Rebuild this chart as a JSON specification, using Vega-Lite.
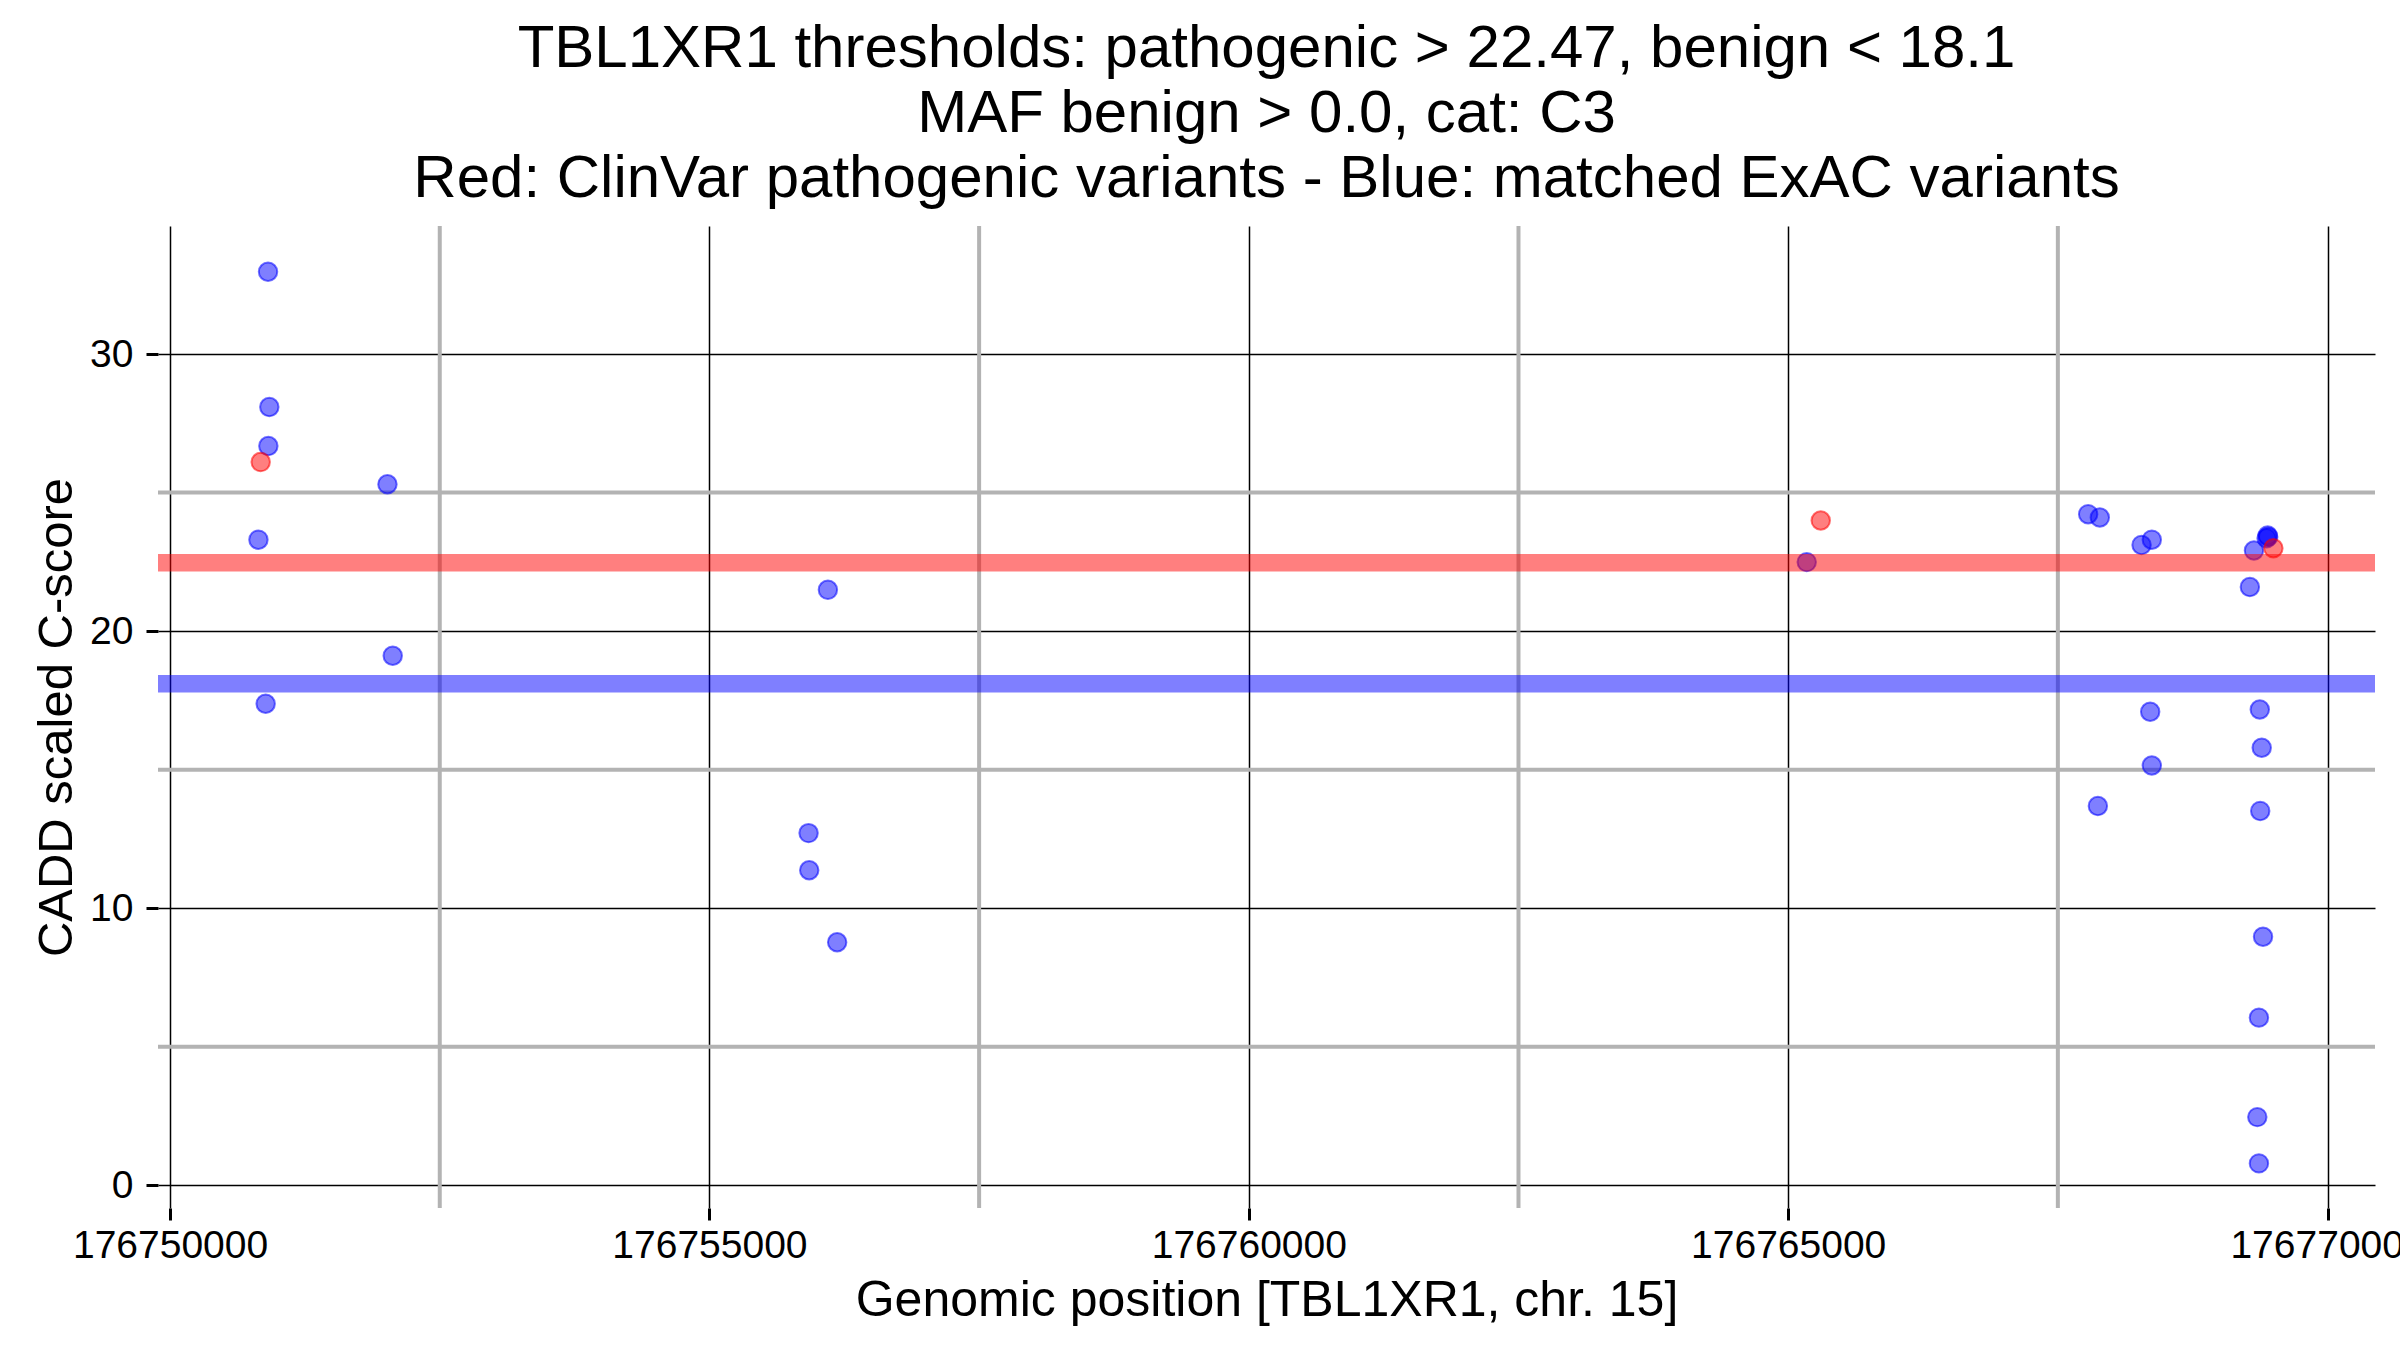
{
  "$schema": "https://vega.github.io/schema/vega-lite/v6.json",
  "width": 2217,
  "height": 982,
  "autosize": "none",
  "padding": {"left": 158, "top": 226, "right": 25, "bottom": 142},
  "background": "white",
  "config": {"view": {"stroke": null}, "font": "Liberation Sans"},
  "title": {
    "text": ["TBL1XR1 thresholds: pathogenic > 22.47, benign < 18.1", "MAF benign > 0.0, cat: C3", "Red: ClinVar pathogenic variants - Blue: matched ExAC variants"],
    "fontSize": 60,
    "lineHeight": 65,
    "font": "Liberation Sans",
    "fontWeight": "normal",
    "color": "black",
    "anchor": "middle",
    "frame": "group",
    "offset": 14
  },
  "datasets": {
    "variants": [
      {"pos": 176750908, "score": 32.97, "set": "ExAC"},
      {"pos": 176750920, "score": 28.09, "set": "ExAC"},
      {"pos": 176750911, "score": 26.68, "set": "ExAC"},
      {"pos": 176752015, "score": 25.30, "set": "ExAC"},
      {"pos": 176750819, "score": 23.30, "set": "ExAC"},
      {"pos": 176752064, "score": 19.11, "set": "ExAC"},
      {"pos": 176750886, "score": 17.38, "set": "ExAC"},
      {"pos": 176756098, "score": 21.49, "set": "ExAC"},
      {"pos": 176755919, "score": 12.71, "set": "ExAC"},
      {"pos": 176755925, "score": 11.37, "set": "ExAC"},
      {"pos": 176756184, "score": 8.77, "set": "ExAC"},
      {"pos": 176765172, "score": 22.49, "set": "ExAC"},
      {"pos": 176767781, "score": 24.22, "set": "ExAC"},
      {"pos": 176767889, "score": 24.10, "set": "ExAC"},
      {"pos": 176768276, "score": 23.11, "set": "ExAC"},
      {"pos": 176768371, "score": 23.30, "set": "ExAC"},
      {"pos": 176769318, "score": 22.91, "set": "ExAC"},
      {"pos": 176769435, "score": 23.35, "set": "ExAC"},
      {"pos": 176769445, "score": 23.45, "set": "ExAC"},
      {"pos": 176769450, "score": 23.40, "set": "ExAC"},
      {"pos": 176769280, "score": 21.59, "set": "ExAC"},
      {"pos": 176768356, "score": 17.09, "set": "ExAC"},
      {"pos": 176768371, "score": 15.15, "set": "ExAC"},
      {"pos": 176767871, "score": 13.69, "set": "ExAC"},
      {"pos": 176769372, "score": 17.17, "set": "ExAC"},
      {"pos": 176769390, "score": 15.79, "set": "ExAC"},
      {"pos": 176769376, "score": 13.51, "set": "ExAC"},
      {"pos": 176769402, "score": 8.97, "set": "ExAC"},
      {"pos": 176769364, "score": 6.05, "set": "ExAC"},
      {"pos": 176769349, "score": 2.46, "set": "ExAC"},
      {"pos": 176769364, "score": 0.79, "set": "ExAC"},
      {"pos": 176750840, "score": 26.10, "set": "ClinVar"},
      {"pos": 176765302, "score": 23.99, "set": "ClinVar"},
      {"pos": 176769498, "score": 22.99, "set": "ClinVar"}
    ],
    "thresholds": [
      {"score": 22.47, "set": "ClinVar"},
      {"score": 18.1, "set": "ExAC"}
    ],
    "minorX": [
      {"pos": 176752500},
      {"pos": 176757500},
      {"pos": 176762500},
      {"pos": 176767500}
    ],
    "minorY": [
      {"score": 5},
      {"score": 15},
      {"score": 25}
    ]
  },
  "layer": [
    {
      "data": {"name": "minorX"},
      "mark": {"type": "rule", "color": "#b3b3b3", "strokeWidth": 4},
      "encoding": {
        "x": {"field": "pos", "type": "quantitative"}
      }
    },
    {
      "data": {"name": "minorY"},
      "mark": {"type": "rule", "color": "#b3b3b3", "strokeWidth": 4},
      "encoding": {
        "y": {"field": "score", "type": "quantitative"}
      }
    },
    {
      "data": {"name": "variants"},
      "mark": {"type": "point", "shape": "circle", "filled": true, "size": 340, "fillOpacity": 0.5, "strokeOpacity": 0.55, "strokeWidth": 2},
      "encoding": {
        "x": {
          "field": "pos", "type": "quantitative",
          "scale": {"domain": [176749888, 176770440], "nice": false, "zero": false},
          "axis": {
            "title": "Genomic position [TBL1XR1, chr. 15]",
            "values": [176750000, 176755000, 176760000, 176765000, 176770000],
            "format": "d",
            "grid": true, "gridColor": "black", "gridWidth": 1.5, "gridOpacity": 1,
            "domain": false,
            "ticks": true, "tickColor": "black", "tickWidth": 3, "tickSize": 12,
            "labelFontSize": 39, "labelColor": "black", "labelPadding": 6,
            "labelFlush": false, "labelOverlap": false, "labelLimit": 0,
            "titleFontSize": 50, "titleFontWeight": "normal", "titleColor": "black", "titlePadding": 10
          }
        },
        "y": {
          "field": "score", "type": "quantitative",
          "scale": {"domain": [-0.82, 34.62], "nice": false, "zero": false},
          "axis": {
            "title": "CADD scaled C-score",
            "values": [0, 10, 20, 30],
            "grid": true, "gridColor": "black", "gridWidth": 1.5, "gridOpacity": 1,
            "domain": false,
            "ticks": true, "tickColor": "black", "tickWidth": 3, "tickSize": 12,
            "labelFontSize": 39, "labelColor": "black", "labelPadding": 13, "labelLimit": 0,
            "titleFontSize": 49, "titleFontWeight": "normal", "titleColor": "black", "titlePadding": 8
          }
        },
        "color": {
          "field": "set", "type": "nominal",
          "scale": {"domain": ["ClinVar", "ExAC"], "range": ["#ff0000", "#0000ff"]},
          "legend": null
        },
        "stroke": {
          "field": "set", "type": "nominal",
          "scale": {"domain": ["ClinVar", "ExAC"], "range": ["#ff0000", "#0000ff"]},
          "legend": null
        }
      }
    },
    {
      "data": {"name": "thresholds"},
      "mark": {"type": "rule", "strokeWidth": 17.5, "opacity": 0.5},
      "encoding": {
        "y": {"field": "score", "type": "quantitative"},
        "color": {"field": "set", "type": "nominal", "legend": null}
      }
    }
  ]
}
